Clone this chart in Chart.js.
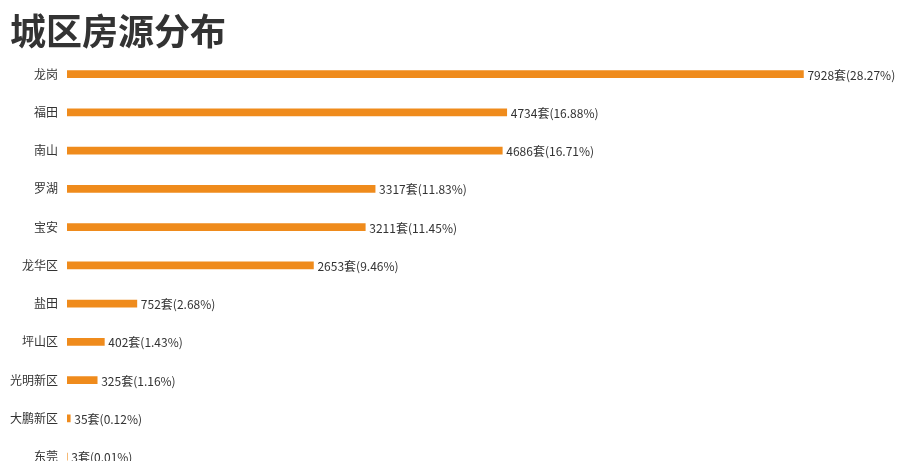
<!DOCTYPE html>
<html>
<head>
<meta charset="utf-8">
<script src="https://cdn.jsdelivr.net/npm/chart.js@4"></script>
<style>
	html, body { margin: 0; padding: 0; background: #fff; overflow: hidden; }
	#wrap { position: relative; width: 907px; height: 492px; }
	#title {
		position: absolute; left: 10px; top: 7px;
		font: bold 36px "Noto Sans CJK SC", sans-serif; color: #333; line-height: 44px;
	}
</style>
</head>
<body>
<div id="wrap">
	<canvas id="c" width="907" height="492"></canvas>
	<div id="title">城区房源分布</div>
</div>
<script>
// Data
const districts = ["龙岗", "福田", "南山", "罗湖", "宝安", "龙华区", "盐田", "坪山区", "光明新区", "大鹏新区", "东莞"];
const counts = [7928, 4734, 4686, 3317, 3211, 2653, 752, 402, 325, 35, 3];
const shares = ["28.27", "16.88", "16.71", "11.83", "11.45", "9.46", "2.68", "1.43", "1.16", "0.12", "0.01"];

// value labels after each bar
const barLabels = {
	id: "barLabels",
	afterDatasetsDraw(chart) {
		const ctx = chart.ctx;
		const meta = chart.getDatasetMeta(0);
		ctx.save();
		ctx.font = '12px "Noto Sans CJK SC", sans-serif';
		ctx.fillStyle = "#333";
		ctx.textBaseline = "middle";
		ctx.textAlign = "left";
		meta.data.forEach((bar, i) => {
			ctx.fillText(counts[i] + "套(" + shares[i] + "%)", bar.x + 4, bar.y + 1);
		});
		ctx.restore();
	},
};

new Chart(document.getElementById("c"), {
	type: "bar",
	data: {
		labels: districts,
		datasets: [
			{
				data: counts,
				backgroundColor: "#ef8b1c",
				barThickness: 7,
				borderWidth: 0,
			},
		],
	},
	options: {
		indexAxis: "y",
		responsive: false,
		animation: false,
		layout: { padding: { top: 55, bottom: 4, left: 0, right: 4 } },
		plugins: {
			legend: { display: false },
			tooltip: { enabled: false },
		},
		scales: {
			x: {
				min: 0,
				max: 9000,
				display: false,
			},
			y: {
				grid: { display: false, drawTicks: false },
				border: { display: false },
				ticks: {
					padding: 9,
					color: "#333",
					font: { family: '"Noto Sans CJK SC", sans-serif', size: 12 },
				},
				afterFit(scale) {
					scale.width = 67;
				},
			},
		},
	},
	plugins: [barLabels],
});
</script>
</body>
</html>
